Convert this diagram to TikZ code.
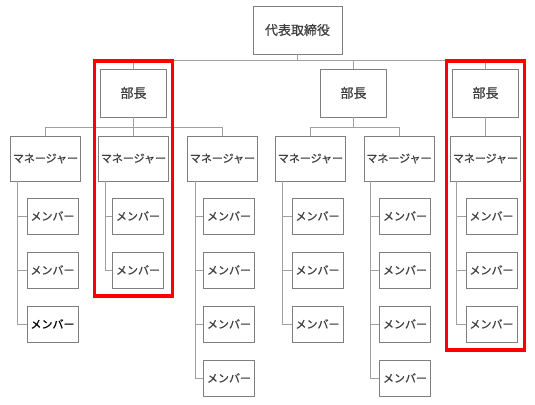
\documentclass[tikz,border=0pt]{standalone}
\usepackage{fontspec}
\setmainfont[FakeBold=0.7]{Noto Sans CJK JP}
\usepackage{tikz}
\usetikzlibrary{fit}
\definecolor{boxgray}{HTML}{7F7F7F}
\definecolor{linkgray}{HTML}{A0A0A0}
\definecolor{txtgray}{HTML}{3F3F3F}

\begin{document}
\begin{tikzpicture}[x=1pt, y=-1pt,
  topbox/.style={draw=boxgray, line width=0.9pt, fill=white, text=txtgray,
              minimum width=89pt, minimum height=48pt, inner sep=0pt,
              text centered, font=\fontsize{13}{15}\selectfont},
  bubox/.style={draw=boxgray, line width=0.9pt, fill=white, text=txtgray,
              minimum width=66pt, minimum height=48pt, inner sep=0pt,
              text centered, font=\fontsize{13}{15}\selectfont},
  mgbox/.style={draw=boxgray, line width=0.9pt, fill=white, text=txtgray,
              minimum width=70pt, minimum height=45pt, inner sep=0pt,
              text centered, font=\fontsize{11}{13}\selectfont},
  mbbox/.style={draw=boxgray, line width=0.9pt, fill=white, text=txtgray,
              minimum width=51pt, minimum height=36pt, inner sep=0pt,
              text centered, font=\fontsize{11}{13}\selectfont},
  link/.style={draw=linkgray, line width=0.9pt},
  hilite/.style={draw=red, line width=3.5pt, inner xsep=3.5pt, inner ysep=7.5pt}
]
\useasboundingbox (0,0) rectangle (535,404);

\node[topbox] (nceo) at (297.5, 30) {代表取締役};

\node[bubox] (nbu1) at (133.5, 93) {部長};
\node[bubox] (nbu2) at (353.5, 93) {部長};
\node[bubox] (nbu3) at (485.5, 93) {部長};

\node[mgbox] (nmg1) at ( 45.5, 158.5) {マネージャー};
\node[mgbox] (nmg2) at (133.5, 158.5) {マネージャー};
\node[mgbox] (nmg3) at (222.5, 158.5) {マネージャー};
\node[mgbox] (nmg4) at (310.5, 158.5) {マネージャー};
\node[mgbox] (nmg5) at (399,   158.5) {マネージャー};
\node[mgbox] (nmg6) at (485.5, 158.5) {マネージャー};

\node[mbbox] (nmb11) at ( 52.5, 216) {メンバー};
\node[mbbox] (nmb12) at ( 52.5, 270) {メンバー};
\node[mbbox, text=black] (nmb13) at ( 52.5, 324) {メンバー};

\node[mbbox] (nmb21) at (138,   216) {メンバー};
\node[mbbox] (nmb22) at (138,   270) {メンバー};

\node[mbbox] (nmb31) at (229,   216) {メンバー};
\node[mbbox] (nmb32) at (229,   270) {メンバー};
\node[mbbox] (nmb33) at (229,   324) {メンバー};
\node[mbbox] (nmb34) at (229,   378) {メンバー};

\node[mbbox] (nmb41) at (317.5, 216) {メンバー};
\node[mbbox] (nmb42) at (317.5, 270) {メンバー};
\node[mbbox] (nmb43) at (317.5, 324) {メンバー};

\node[mbbox] (nmb51) at (405,   216) {メンバー};
\node[mbbox] (nmb52) at (405,   270) {メンバー};
\node[mbbox] (nmb53) at (405,   324) {メンバー};
\node[mbbox] (nmb54) at (405,   378) {メンバー};

\node[mbbox] (nmb61) at (491.5, 216) {メンバー};
\node[mbbox] (nmb62) at (491.5, 270) {メンバー};
\node[mbbox] (nmb63) at (491.5, 324) {メンバー};

\draw[link] (nceo.south) -- ++(0,6) -| (nbu1.north);
\draw[link] (nceo.south) -- ++(0,6) -| (nbu2.north);
\draw[link] (nceo.south) -- ++(0,6) -| (nbu3.north);

\draw[link] (nbu1.south) -- ++(0,10) -| (nmg1.north);
\draw[link] (nbu1.south) -- (nmg2.north);
\draw[link] (nbu1.south) -- ++(0,10) -| (nmg3.north);
\draw[link] (nbu2.south) -- ++(0,10) -| (nmg4.north);
\draw[link] (nbu2.south) -- ++(0,10) -| (nmg5.north);
\draw[link] (nbu3.south) -- (nmg6.north);

\draw[link] ([xshift=7pt]nmg1.south west) |- (nmb11.west);
\draw[link] ([xshift=7pt]nmg1.south west) |- (nmb12.west);
\draw[link] ([xshift=7pt]nmg1.south west) |- (nmb13.west);
\draw[link] ([xshift=7pt]nmg2.south west) |- (nmb21.west);
\draw[link] ([xshift=7pt]nmg2.south west) |- (nmb22.west);
\draw[link] ([xshift=8pt]nmg3.south west) |- (nmb31.west);
\draw[link] ([xshift=8pt]nmg3.south west) |- (nmb32.west);
\draw[link] ([xshift=8pt]nmg3.south west) |- (nmb33.west);
\draw[link] ([xshift=8pt]nmg3.south west) |- (nmb34.west);
\draw[link] ([xshift=7pt]nmg4.south west) |- (nmb41.west);
\draw[link] ([xshift=7pt]nmg4.south west) |- (nmb42.west);
\draw[link] ([xshift=7pt]nmg4.south west) |- (nmb43.west);
\draw[link] ([xshift=7pt]nmg5.south west) |- (nmb51.west);
\draw[link] ([xshift=7pt]nmg5.south west) |- (nmb52.west);
\draw[link] ([xshift=7pt]nmg5.south west) |- (nmb53.west);
\draw[link] ([xshift=7pt]nmg5.south west) |- (nmb54.west);
\draw[link] ([xshift=6pt]nmg6.south west) |- (nmb61.west);
\draw[link] ([xshift=6pt]nmg6.south west) |- (nmb62.west);
\draw[link] ([xshift=6pt]nmg6.south west) |- (nmb63.west);

% highlight frames
\node[hilite, fit=(nbu1)(nmg2)(nmb22)] (nframe1) {};
\node[hilite, fit=(nbu3)(nmg6)(nmb63)] (nframe2) {};
\end{tikzpicture}
\end{document}
